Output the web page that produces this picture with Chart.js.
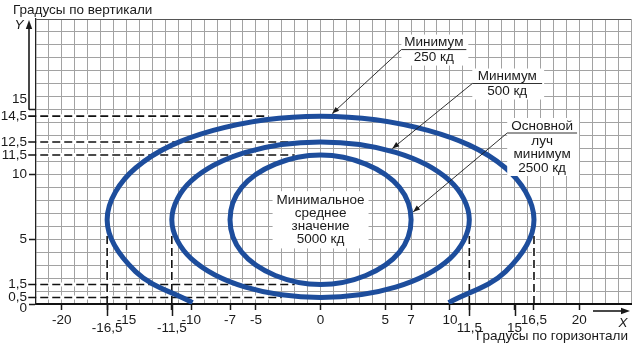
<!DOCTYPE html>
<html>
<head>
<meta charset="utf-8">
<script src="https://cdn.jsdelivr.net/npm/chart.js@4.4.1/dist/chart.umd.min.js"></script>
<style>
  body { margin: 0; background: #fff; }
  canvas { display: block; }
</style>
</head>
<body>
<canvas id="chart" width="633" height="351"></canvas>
<script>
// tick labels (degrees)
const xLabels = [-20, -16.5, -15, -11.5, -10, -7, -5, 0, 5, 7, 10, 11.5, 15, 16.5, 20];
const xLowRow = [-16.5, -11.5, 11.5, 15];
const yLabels = [0, 0.5, 1.5, 5, 10, 11.5, 12.5, 14.5, 15];
const yMarks = [0, 5, 10, 15];

// isocandela curves, points [x, y]
const outer250 = [
  [-9.9, 0.1], [-14.3, 2.5], [-16.5, 6.5], [-14.3, 10.5], [-8.3, 13.4], [0, 14.5],
  [8.3, 13.4], [14.3, 10.5], [16.5, 6.5], [14.3, 2.5], [9.9, 0.1]
];
const middle500 = [
  [0, 12.5], [5.8, 11.7], [10.0, 9.5], [11.5, 6.5], [10.0, 3.5], [5.8, 1.3],
  [0, 0.5], [-5.8, 1.3], [-10.0, 3.5], [-11.5, 6.5], [-10.0, 9.5], [-5.8, 11.7]
];
const inner2500 = [
  [0, 11.5], [3.5, 10.8], [6.1, 9.0], [7.0, 6.5], [6.1, 4.0], [3.5, 2.2],
  [0, 1.5], [-3.5, 2.2], [-6.1, 4.0], [-7.0, 6.5], [-6.1, 9.0], [-3.5, 10.8]
];

// dashed guide lines
const guideH = [14.5, 12.5, 11.5, 1.5, 0.5];
const guideHEnd = [-4, 0, -2, -2, -3];
const guideV = [-16.5, -11.5, 11.5, 16.5];
const guideVTop = 5.5;

const X_MIN = -22, X_MAX = 24, Y_MIN = 0, Y_MAX = 22;
const BLUE = "#1d4d9c";
const FONT = "'Liberation Sans', Arial, sans-serif";
const FS = 13.5;

function pts(list) {
  return list.map(([x, y]) => ({ x, y }));
}

// closed curve: wrap one point on each side so the spline is smooth at the seam,
// the two extra segments are hidden
function loopDataset(list, label) {
  const p = pts(list);
  const data = [p[p.length - 1], ...p, p[0], p[1]];
  const last = data.length - 1;
  return {
    label, data, showLine: true, pointRadius: 0, borderWidth: 5,
    borderColor: BLUE, tension: 0.36, order: 0,
    segment: {
      borderColor: c => (c.p0DataIndex === 0 || c.p1DataIndex === last) ? "transparent" : BLUE
    }
  };
}

function fmt(v) {
  return String(v).replace(".", ",");
}

function tickVal(c) {
  return c && c.tick ? c.tick.value : null;
}

const datasets = [];
datasets.push({
  label: "250", data: pts(outer250), showLine: true, pointRadius: 0,
  borderWidth: 5, borderColor: BLUE, tension: 0.36, order: 0, borderCapStyle: "butt"
});
datasets.push(loopDataset(middle500, "500"));
datasets.push(loopDataset(inner2500, "2500"));

guideH.forEach((y, i) => {
  datasets.push({
    data: [{ x: -21.9, y }, { x: guideHEnd[i], y }], showLine: true, pointRadius: 0,
    borderColor: "#fff", borderWidth: 4, order: 2
  });
  datasets.push({
    data: [{ x: -22.6, y }, { x: guideHEnd[i], y }], showLine: true, pointRadius: 0,
    borderColor: "#111", borderWidth: 1.6, borderDash: [8, 4], order: 1, clip: false
  });
});
guideV.forEach(x => {
  datasets.push({
    data: [{ x, y: 0.1 }, { x, y: guideVTop }], showLine: true, pointRadius: 0,
    borderColor: "#fff", borderWidth: 4, order: 2
  });
  datasets.push({
    data: [{ x, y: 0 }, { x, y: guideVTop }], showLine: true, pointRadius: 0,
    borderColor: "#111", borderWidth: 1.6, borderDash: [8, 4], order: 1
  });
});

const notes = [
  { above: ["Минимум"], below: ["250 кд"], rule: [6.25, 11.27, 19.64], tip: [0.9, 14.7] },
  { above: ["Минимум"], below: ["500 кд"], rule: [11.73, 17.13, 17.02], tip: [5.55, 12.0] },
  { above: ["Основной"], below: ["луч", "минимум", "2500 кд"], rule: [14.43, 19.83, 13.2], tip: [7.15, 7.1] }
];
const centerText = ["Минимальное", "среднее", "значение", "5000 кд"];

function arrowHead(ctx, x0, y0, x1, y1, len, half) {
  const a = Math.atan2(y1 - y0, x1 - x0);
  ctx.beginPath();
  ctx.moveTo(x1, y1);
  ctx.lineTo(x1 - len * Math.cos(a) + half * Math.sin(a), y1 - len * Math.sin(a) - half * Math.cos(a));
  ctx.lineTo(x1 - len * Math.cos(a) - half * Math.sin(a), y1 - len * Math.sin(a) + half * Math.cos(a));
  ctx.closePath();
  ctx.fill();
}

const decor = {
  id: "decor",
  afterDatasetsDraw(chart) {
    const ctx = chart.ctx;
    const sx = chart.scales.x, sy = chart.scales.y;
    const area = chart.chartArea;
    ctx.save();
    ctx.fillStyle = "#1a1a1a";
    ctx.strokeStyle = "#1a1a1a";

    // titles
    ctx.font = FS + "px " + FONT;
    ctx.textBaseline = "alphabetic";
    ctx.textAlign = "left";
    ctx.fillText("Градусы по вертикали", 13, 13.5);
    ctx.textAlign = "right";
    ctx.fillText("Градусы по горизонтали", 628, 340);

    // Y arrow
    const y15 = sy.getPixelForValue(15);
    ctx.lineWidth = 1.6;
    ctx.beginPath();
    ctx.moveTo(29, y15);
    ctx.lineTo(29, 28);
    ctx.stroke();
    arrowHead(ctx, 29, 40, 29, 20, 9, 3.2);
    // X arrow
    ctx.beginPath();
    ctx.moveTo(593, 311);
    ctx.lineTo(621, 311);
    ctx.stroke();
    arrowHead(ctx, 593, 311, 630, 311, 9, 3.2);
    ctx.font = "italic " + FS + "px " + FONT;
    ctx.textAlign = "center";
    ctx.textBaseline = "middle";
    ctx.fillText("Y", 19, 25);
    ctx.fillText("X", 623, 323);

    // longer ticks for the lower label row
    ctx.lineWidth = 1.5;
    xLowRow.forEach(v => {
      const px = Math.round(sx.getPixelForValue(v)) + 0.5;
      ctx.beginPath();
      ctx.moveTo(px, area.bottom);
      ctx.lineTo(px, area.bottom + 12);
      ctx.stroke();
    });

    // callouts
    ctx.font = FS + "px " + FONT;
    const lh = 13.5;
    notes.forEach(n => {
      const x1 = sx.getPixelForValue(n.rule[0]);
      const x2 = sx.getPixelForValue(n.rule[1]);
      const ry = sy.getPixelForValue(n.rule[2]);
      const cx = (x1 + x2) / 2;
      const top = ry - 7 - lh * (n.above.length - 1) - 8;
      const bottom = ry + 8 + lh * (n.below.length - 1) + 8;
      ctx.fillStyle = "#fff";
      ctx.fillRect(x1, top, x2 - x1 + 2, bottom - top);
      ctx.fillStyle = "#1a1a1a";
      n.above.forEach((t, i) => ctx.fillText(t, cx, ry - 7 - lh * (n.above.length - 1 - i)));
      n.below.forEach((t, i) => ctx.fillText(t, cx, ry + 8 + lh * i));
      ctx.lineWidth = 0.9;
      ctx.beginPath();
      ctx.moveTo(x2, ry);
      ctx.lineTo(x1, ry);
      const tx = sx.getPixelForValue(n.tip[0]);
      const ty = sy.getPixelForValue(n.tip[1]);
      ctx.lineTo(tx, ty);
      ctx.stroke();
      arrowHead(ctx, x1, ry, tx, ty, 7, 2.6);
    });

    // centre label
    const ccx = sx.getPixelForValue(0);
    const ccy = sy.getPixelForValue(6.5);
    const lh2 = 13.3;
    const w = Math.max(...centerText.map(t => ctx.measureText(t).width)) + 8;
    const h = lh2 * centerText.length + 4;
    ctx.fillStyle = "#fff";
    ctx.fillRect(ccx - w / 2, ccy - h / 2, w, h);
    ctx.fillStyle = "#1a1a1a";
    centerText.forEach((t, i) => {
      ctx.fillText(t, ccx, ccy + (i - (centerText.length - 1) / 2) * lh2);
    });
    ctx.restore();
  }
};

function xTicks() {
  const t = [];
  for (let v = X_MIN; v <= X_MAX; v++) t.push(v);
  xLabels.forEach(v => { if (!Number.isInteger(v)) t.push(v); });
  return t.sort((a, b) => a - b).map(value => ({ value }));
}
function yTicks() {
  const t = [];
  for (let v = Y_MIN; v <= Y_MAX; v++) t.push(v);
  yLabels.forEach(v => { if (!Number.isInteger(v)) t.push(v); });
  return t.sort((a, b) => a - b).map(value => ({ value }));
}

new Chart(document.getElementById("chart"), {
  type: "scatter",
  data: { datasets },
  plugins: [decor],
  options: {
    responsive: false,
    animation: false,
    devicePixelRatio: 1,
    layout: { padding: { top: 19, right: 1, left: 0, bottom: 0 } },
    elements: { line: { capBezierPoints: false } },
    plugins: { legend: { display: false }, tooltip: { enabled: false } },
    scales: {
      x: {
        type: "linear", min: X_MIN, max: X_MAX,
        afterBuildTicks: s => { s.ticks = xTicks(); },
        afterFit: s => { s.height = 47; },
        grid: {
          color: c => {
            const v = tickVal(c);
            return (v !== null && Number.isInteger(v) && v !== X_MIN) ? "#a2a2a2" : "transparent";
          },
          lineWidth: 1,
          tickLength: 6,
          tickWidth: 1.5,
          tickColor: c => xLabels.includes(tickVal(c)) ? "#1a1a1a" : "transparent"
        },
        border: { color: "#111", width: 2 },
        ticks: {
          autoSkip: false, maxRotation: 0, padding: 2,
          color: "#1a1a1a",
          font: c => ({ family: FONT, size: FS, lineHeight: xLowRow.includes(tickVal(c)) ? "32px" : "16px" }),
          callback: v => xLabels.includes(v) ? fmt(v) : ""
        }
      },
      y: {
        type: "linear", min: Y_MIN, max: Y_MAX,
        afterBuildTicks: s => { s.ticks = yTicks(); },
        afterFit: s => { s.width = 36; },
        grid: {
          color: c => {
            const v = tickVal(c);
            if (v === null || !Number.isInteger(v)) return "transparent";
            return v === Y_MAX ? "#555" : "#a2a2a2";
          },
          lineWidth: 1,
          tickLength: 7,
          tickWidth: 1.5,
          tickColor: c => yMarks.includes(tickVal(c)) ? "#1a1a1a" : "transparent"
        },
        border: { color: "#222", width: 1.3 },
        ticks: {
          autoSkip: false, padding: 2,
          color: "#1a1a1a",
          font: c => {
            const v = tickVal(c);
            let lh = "16px";
            if (v === 15) lh = "20px";
            if (v === 0) lh = "8px";
            return { family: FONT, size: FS, lineHeight: lh };
          },
          callback: v => {
            if (!yLabels.includes(v)) return "";
            if (v === 15) return [fmt(v), ""];
            if (v === 0) return ["", fmt(v)];
            return fmt(v);
          }
        }
      }
    }
  }
});
</script>
</body>
</html>
